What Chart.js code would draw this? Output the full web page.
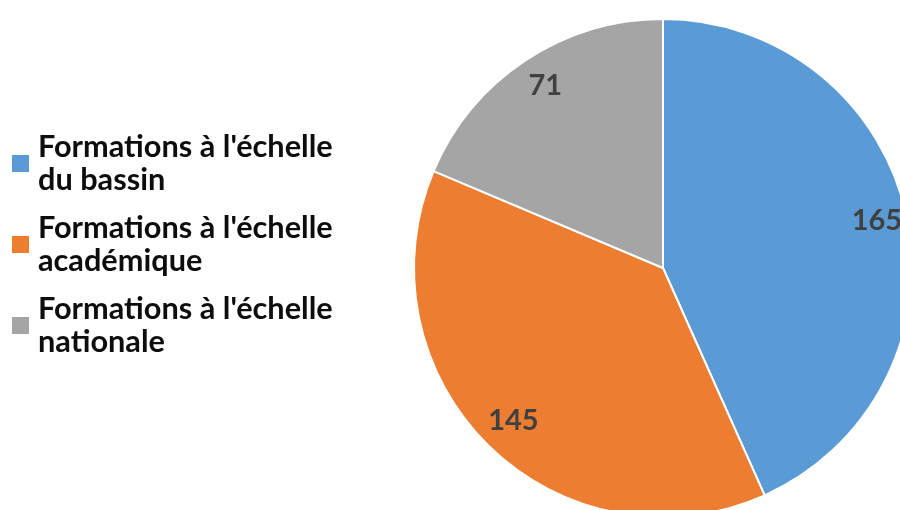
<!DOCTYPE html>
<html>
<head>
<meta charset="utf-8">
<script src="https://cdn.jsdelivr.net/npm/chart.js@4.4.0/dist/chart.umd.min.js"></script>
<style>
  html, body { margin: 0; padding: 0; width: 900px; height: 510px; overflow: hidden; background: #fff; }
  #wrap { position: absolute; left: 0; top: 0; width: 920px; height: 530px; }
  #legend { position: absolute; left: 12px; top: 129px; font-family: Lato, "Open Sans", sans-serif; font-weight: bold; font-size: 30.7px; color: #0d0d0d; }
  .item { position: relative; padding-left: 26px; line-height: 33px; margin-bottom: 15px; white-space: nowrap; }
  .sw { position: absolute; left: 0; width: 17px; height: 17px; }
</style>
</head>
<body>
<div id="wrap"><canvas id="c" width="920" height="530"></canvas></div>
<div id="legend"></div>
<script>
const categories = [
  ["Formations à l'échelle", "du bassin"],
  ["Formations à l'échelle", "académique"],
  ["Formations à l'échelle", "nationale"]
];
const values = [165, 145, 71];
const colors = ["#5B9BD5", "#ED7D31", "#A5A5A5"];

// HTML legend built from the arrays
const legend = document.getElementById('legend');
categories.forEach((lines, i) => {
  const item = document.createElement('div');
  item.className = 'item';
  const sw = document.createElement('span');
  sw.className = 'sw';
  sw.style.background = colors[i];
  sw.style.top = '26px';
  item.appendChild(sw);
  lines.forEach(l => {
    const d = document.createElement('div');
    d.textContent = l;
    item.appendChild(d);
  });
  legend.appendChild(item);
});

const valueLabels = {
  id: 'valueLabels',
  afterDatasetsDraw(chart) {
    const ctx = chart.ctx;
    const meta = chart.getDatasetMeta(0);
    ctx.save();
    ctx.font = 'bold 29px Lato, "Open Sans", sans-serif';
    ctx.fillStyle = '#404040';
    ctx.textAlign = 'center';
    ctx.textBaseline = 'middle';
    meta.data.forEach((arc, i) => {
      const p = arc.getProps(['x', 'y', 'startAngle', 'endAngle', 'outerRadius'], true);
      const mid = (p.startAngle + p.endAngle) / 2;
      const r = p.outerRadius * 0.87;
      ctx.fillText(String(chart.data.datasets[0].data[i]), p.x + Math.cos(mid) * r + 2, p.y + Math.sin(mid) * r - 2);
    });
    ctx.restore();
  }
};

new Chart(document.getElementById('c'), {
  type: 'pie',
  data: {
    labels: categories.map(l => l.join(' ')),
    datasets: [{
      data: values,
      backgroundColor: colors,
      borderColor: '#ffffff',
      borderWidth: 2
    }]
  },
  options: {
    responsive: false,
    devicePixelRatio: 1,
    animation: false,
    radius: 249,
    layout: { padding: { left: 414, top: 19, right: 8, bottom: 13 } },
    plugins: { legend: { display: false }, tooltip: { enabled: false } }
  },
  plugins: [valueLabels]
});
</script>
</body>
</html>
